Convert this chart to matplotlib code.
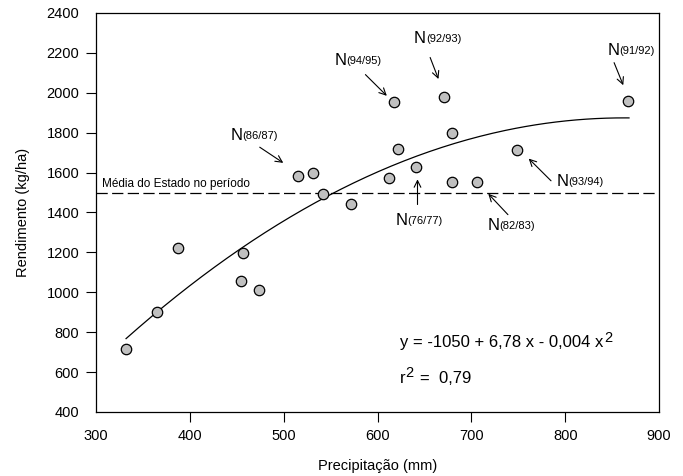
import numpy as np
import matplotlib
matplotlib.use("Agg")
import matplotlib.pyplot as plt

plt.rcParams['font.family'] = ['Liberation Sans', 'DejaVu Sans']

# precipitacao (mm) x rendimento (kg/ha)
precip = [332, 365, 387, 455, 457, 474, 515, 531, 542, 572,
          612, 618, 622, 641, 671, 679, 679, 706, 749, 867]
rend = [714, 901, 1220, 1058, 1195, 1011, 1584, 1599, 1491, 1443,
        1574, 1952, 1720, 1630, 1977, 1800, 1553, 1553, 1715, 1960]

# fitted curve as drawn
coef = [-1050, 6.78, -0.00393]
curve_x = [332, 868]
media = 1500

# annotated seasons: label, text pos, arrow start, arrow end
labels = ['(86/87)', '(94/95)', '(92/93)', '(91/92)', '(93/94)', '(76/77)', '(82/83)']
label_pos = [(443, 1788), (554, 2164), (639, 2273), (845, 2211), (791, 1554), (619, 1362), (717, 1337)]
arrow_from = [(472, 1735), (585, 2101), (655, 2190), (851, 2164), (787, 1549), (642.6, 1426), (741, 1379)]
arrow_to = [(502, 1641), (612, 1975), (666, 2056), (863, 2025), (759, 1680), (642.6, 1580), (716, 1504)]

fig = plt.figure(figsize=(6.83, 4.76), dpi=100)
ax = fig.add_axes([0.1406, 0.1345, 0.8243, 0.8382])

ax.axhline(media, color='black', lw=0.9, ls=(0, (9, 3.5)), zorder=1)
ax.text(306, media + 12, 'Média do Estado no período', fontsize=8.5, va='bottom', ha='left')

xs = np.linspace(curve_x[0], curve_x[1], 200)
ax.plot(xs, coef[0] + coef[1] * xs + coef[2] * xs ** 2, color='black', lw=0.9, zorder=2)

ax.plot(precip, rend, 'o', ms=7.5, mfc='#c0c0c0', mec='black', mew=0.9, zorder=3)

for lab, tp, a0, a1 in zip(labels, label_pos, arrow_from, arrow_to):
    ax.annotate('', xy=a1, xytext=a0,
                arrowprops=dict(arrowstyle='->', lw=0.8, color='black', mutation_scale=12))
    n = ax.text(tp[0], tp[1], 'N', fontsize=12, ha='left', va='center')
    ax.annotate(lab, xy=(1, 0.12), xycoords=n, fontsize=8, ha='left', va='bottom')

eq = ax.text(624, 746, 'y = -1050 + 6,78 x - 0,004 x', fontsize=12, va='center')
ax.annotate('2', xy=(1, 1), xycoords=eq, xytext=(0.5, 3), textcoords='offset points',
            fontsize=10.5, ha='left', va='top')
r2 = ax.text(624, 570, 'r', fontsize=12, va='center')
ax.annotate('2', xy=(1, 1), xycoords=r2, xytext=(0, 3), textcoords='offset points',
            fontsize=10.5, ha='left', va='top')
ax.text(645, 570, '=  0,79', fontsize=12, va='center')

ax.set_xlim(300, 900)
ax.set_ylim(400, 2400)
ax.set_xticks(range(300, 901, 100))
ax.set_yticks(range(400, 2401, 200))
ax.tick_params(direction='out', length=7, width=0.8, labelsize=10.5, pad=5)
for t in [ax.xaxis.get_major_ticks()[0], ax.xaxis.get_major_ticks()[-1],
          ax.yaxis.get_major_ticks()[0], ax.yaxis.get_major_ticks()[-1]]:
    t.tick1line.set_visible(False)
for s in ax.spines.values():
    s.set_linewidth(0.9)

ax.set_xlabel('Precipitação (mm)', fontsize=10.5, labelpad=12)
ax.set_ylabel('Rendimento (kg/ha)', fontsize=10.5, labelpad=12)

fig.savefig('out.png', dpi=100)
